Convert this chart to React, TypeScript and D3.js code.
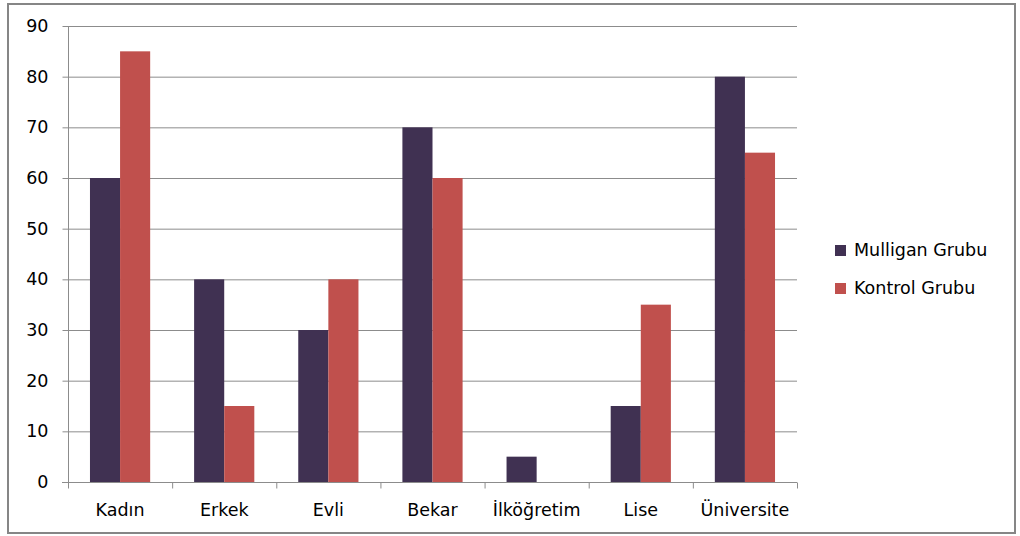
import React, { useEffect, useRef } from 'react';
import * as d3 from 'd3';

// Kategoriler ve seriler
const categories = ['Kadın', 'Erkek', 'Evli', 'Bekar', 'İlköğretim', 'Lise', 'Üniversite'];
const mulligan = [60, 40, 30, 70, 5, 15, 80];
const kontrol = [85, 15, 40, 60, 0, 35, 65];
const seriesNames = ['Mulligan Grubu', 'Kontrol Grubu'];
const yTicks = [0, 10, 20, 30, 40, 50, 60, 70, 80, 90];

const colors = ['#403152', '#c0504d'];
const font = '"DejaVu Sans", "Open Sans", sans-serif';

const App = () => {
  const svgRef = useRef<SVGSVGElement>(null);

  useEffect(() => {
    if (!svgRef.current) return;
    const svg = d3.select(svgRef.current);
    svg.selectAll('*').remove();

    const W = 1020;
    const H = 536;
    const plot = { left: 68, right: 797, top: 26, bottom: 482 };

    // outer frame
    svg.append('rect')
      .attr('x', 8).attr('y', 4)
      .attr('width', 1007).attr('height', 529)
      .attr('fill', '#fff')
      .attr('stroke', '#868686')
      .attr('stroke-width', 2);

    const x = d3.scaleBand<string>()
      .domain(categories)
      .range([plot.left, plot.right]);

    const inner = d3.scaleBand<number>()
      .domain([0, 1])
      .range([0, x.bandwidth()])
      .paddingInner(0)
      .paddingOuter(0.73);

    const y = d3.scaleLinear().domain([0, 90]).range([plot.bottom, plot.top]);

    // gridlines
    svg.append('g')
      .selectAll('line')
      .data(yTicks.filter(t => t > 0))
      .join('line')
      .attr('x1', plot.left).attr('x2', plot.right)
      .attr('y1', d => y(d) + 0.5).attr('y2', d => y(d) + 0.5)
      .attr('stroke', '#8c8c8c')
      .attr('stroke-width', 1);

    // bars
    const data = [mulligan, kontrol];
    data.forEach((vals, si) => {
      svg.append('g')
        .selectAll('rect')
        .data(vals.map((v, i) => ({ v, c: categories[i] })))
        .join('rect')
        .attr('x', d => (x(d.c) ?? 0) + (inner(si) ?? 0))
        .attr('y', d => y(d.v))
        .attr('width', inner.bandwidth())
        .attr('height', d => y(0) - y(d.v))
        .attr('fill', colors[si]);
    });

    // y axis
    const yAxis = svg.append('g').attr('transform', `translate(${plot.left + 0.5},0)`)
      .call(d3.axisLeft(y).tickValues(yTicks).tickSize(6).tickPadding(14).tickFormat(d3.format('d')));
    yAxis.select('.domain').attr('stroke', '#8c8c8c').attr('d', `M0,${plot.top}V${plot.bottom}`);
    yAxis.selectAll('.tick line').attr('stroke', '#8c8c8c');
    yAxis.selectAll('.tick text')
      .attr('font-family', font).attr('font-size', 17.5).attr('fill', '#000');

    // x axis
    const xAxisG = svg.append('g').attr('transform', `translate(0,${plot.bottom + 0.5})`);
    xAxisG.append('line')
      .attr('x1', plot.left - 6).attr('x2', plot.right)
      .attr('stroke', '#8c8c8c');
    xAxisG.selectAll('line.tk')
      .data(d3.range(categories.length + 1))
      .join('line')
      .attr('class', 'tk')
      .attr('x1', i => plot.left + i * x.step() + 0.5)
      .attr('x2', i => plot.left + i * x.step() + 0.5)
      .attr('y1', 0).attr('y2', 6)
      .attr('stroke', '#8c8c8c');
    xAxisG.selectAll('text')
      .data(categories)
      .join('text')
      .attr('x', d => (x(d) ?? 0) + x.bandwidth() / 2)
      .attr('y', 33)
      .attr('text-anchor', 'middle')
      .attr('font-family', font).attr('font-size', 17.5).attr('fill', '#000')
      .text(d => d);

    // legend
    const legend = svg.append('g');
    seriesNames.forEach((name, i) => {
      const cy = 250 + i * 38;
      legend.append('rect')
        .attr('x', 835).attr('y', cy - 5)
        .attr('width', 11).attr('height', 11)
        .attr('fill', colors[i]);
      legend.append('text')
        .attr('x', 854).attr('y', cy + 6)
        .attr('font-family', font).attr('font-size', 17.5).attr('fill', '#000')
        .text(name);
    });

    svg.attr('width', W).attr('height', H);
  }, []);

  return (
    <svg ref={svgRef} width={1020} height={536}
      style={{ position: 'absolute', left: 0, top: 0, background: '#fff' }} />
  );
};

export default App;
